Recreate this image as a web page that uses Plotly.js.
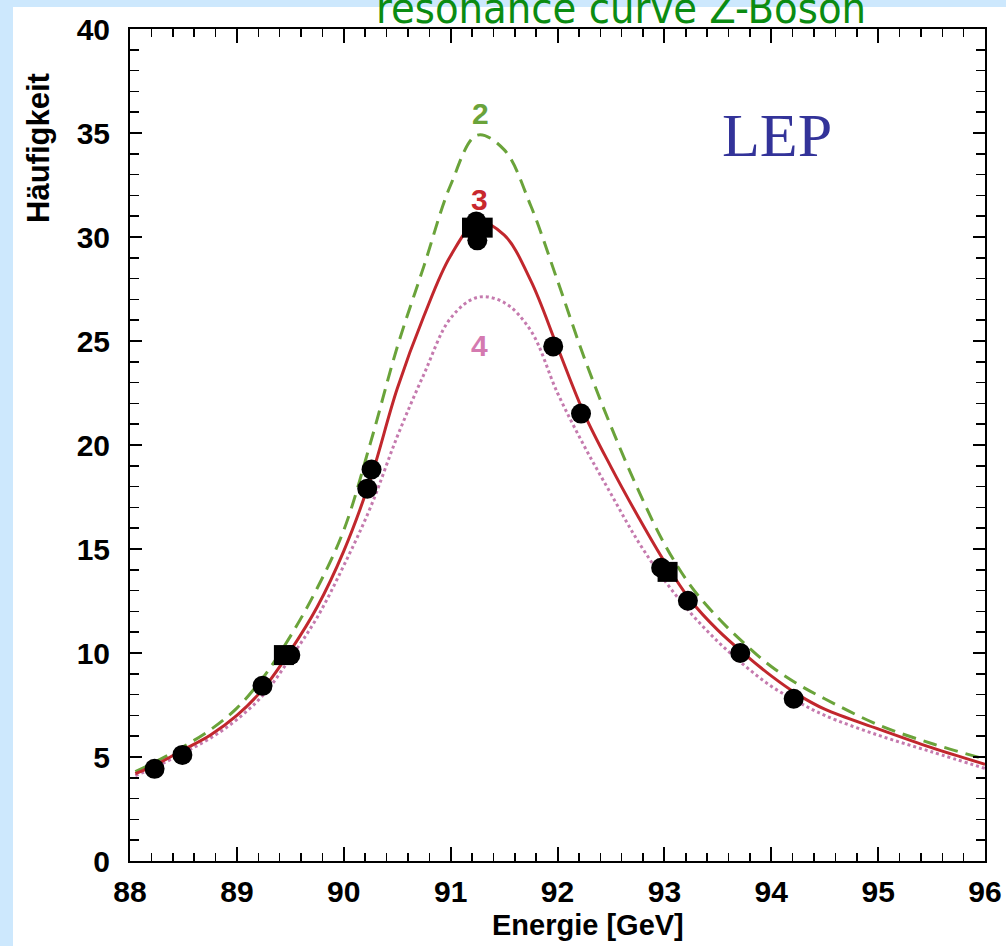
<!DOCTYPE html>
<html>
<head>
<meta charset="utf-8">
<script src="https://cdn.plot.ly/plotly-3.0.1.min.js"></script>
<style>
  html, body { margin: 0; padding: 0; background: #cde8fd; }
  #chart { width: 1006px; height: 946px; }
</style>
</head>
<body>
<div id="chart"></div>
<script>
// ---- data ----
const energy = [88.05, 88.25, 88.5, 88.75, 89.0, 89.25, 89.5, 89.75, 90.0, 90.25,
                90.5, 90.75, 91.0, 91.25, 91.5, 91.75, 92.0, 92.25, 92.5, 92.75,
                93.0, 93.25, 93.5, 93.75, 94.0, 94.25, 94.5, 95.0, 95.5, 96.0];
// curve "2" (green dashed)
const curve2 = [4.3, 4.8, 5.5, 6.3, 7.35, 8.85, 10.8, 13.1, 15.9, 20.1,
                24.7, 28.6, 32.5, 34.9, 34.2, 31.5, 27.9, 24.2, 20.9, 17.9,
                15.25, 13.2, 11.7, 10.45, 9.35, 8.5, 7.8, 6.55, 5.65, 4.9];
// curve "3" (red solid)
const curve3 = [4.2, 4.65, 5.35, 6.05, 7.0, 8.3, 10.1, 12.2, 14.9, 18.35,
                22.7, 26.2, 29.1, 30.7, 30.1, 27.9, 24.7, 21.5, 18.95, 16.6,
                14.4, 12.5, 11.1, 9.95, 8.9, 8.0, 7.3, 6.35, 5.45, 4.65];
// curve "4" (pink dotted)
const curve4 = [4.1, 4.55, 5.2, 5.9, 6.8, 8.0, 9.75, 11.7, 14.2, 17.0,
                20.4, 23.4, 26.1, 27.1, 26.85, 25.5, 22.5, 19.95, 17.65, 15.4,
                13.5, 11.9, 10.55, 9.4, 8.4, 7.65, 7.0, 6.05, 5.25, 4.45];
// measured points (circles)
const circE = [88.23, 88.49, 89.24, 89.50, 90.22, 90.26, 91.24, 91.25, 91.96, 92.22, 92.97, 93.22, 93.71, 94.21];
const circV = [4.43, 5.10, 8.42, 9.90, 17.9, 18.82, 30.75, 29.84, 24.74, 21.51, 14.1, 12.51, 10.0, 7.8];
// measured points (squares)
const sqE = [89.44, 91.20, 91.30, 93.03];
const sqV = [9.90, 30.45, 30.45, 13.9];
// tick labels
const xTicks = [88, 89, 90, 91, 92, 93, 94, 95, 96];
const yTicks = [0, 5, 10, 15, 20, 25, 30, 35, 40];
// curve labels
const curveNames = ["2", "3", "4"];
const labelE = [91.28, 91.27, 91.27];
const labelV = [35.95, 31.8, 24.8];

const cGreen = '#6aa33a', cRed = '#c1272d', cPink = '#c57aae';
const boldFam = '"Liberation Sans", Arial, sans-serif';

const traces = [
  { x: energy, y: curve2, mode: 'lines', line: { color: cGreen, width: 3, dash: '14px,8px', shape: 'spline', smoothing: 1 }, hoverinfo: 'skip' },
  { x: energy, y: curve4, mode: 'lines', line: { color: cPink, width: 3, dash: '3px,3px', shape: 'spline', smoothing: 1 }, hoverinfo: 'skip' },
  { x: energy, y: curve3, mode: 'lines', line: { color: cRed, width: 3, shape: 'spline', smoothing: 1 }, hoverinfo: 'skip' },
  { x: sqE, y: sqV, mode: 'markers', marker: { symbol: 'square', size: 20, color: '#000' } },
  { x: circE, y: circV, mode: 'markers', marker: { symbol: 'circle', size: 20, color: '#000' } }
];

const L = 130, R = 985, T = 29, B = 861;
const px2x = p => (p - L) / (R - L);
const px2y = p => (B - p) / (B - T);

const annotations = [
  { text: 'resonance curve Z-Boson', xref: 'paper', yref: 'paper', x: px2x(621), y: px2y(35),
    xanchor: 'center', yanchor: 'bottom', showarrow: false,
    font: { family: '"DejaVu Sans Condensed", "DejaVu Sans", sans-serif', size: 43, color: '#0b8c12' } },
  { text: 'LEP', xref: 'paper', yref: 'paper', x: px2x(777), y: px2y(135),
    xanchor: 'center', yanchor: 'middle', showarrow: false,
    font: { family: '"Liberation Serif", "Times New Roman", serif', size: 62, color: '#333399' } },
  { text: 'Häufigkeit', xref: 'paper', yref: 'paper', x: px2x(38), y: px2y(148),
    xanchor: 'center', yanchor: 'middle', textangle: -90, showarrow: false,
    font: { family: boldFam, size: 31, color: '#000', weight: 'bold' } },
  { text: 'Energie [GeV]', xref: 'paper', yref: 'paper', x: px2x(588), y: px2y(925),
    xanchor: 'center', yanchor: 'middle', showarrow: false,
    font: { family: boldFam, size: 29, color: '#000', weight: 'bold' } }
];
const labelColors = [cGreen, '#c8282e', '#d47ab0'];
curveNames.forEach((n, i) => annotations.push({
  text: n, x: labelE[i], y: labelV[i], xref: 'x', yref: 'y', showarrow: false,
  xanchor: 'center', yanchor: 'middle',
  font: { family: boldFam, size: 30, color: labelColors[i], weight: 'bold' }
}));

const layout = {
  width: 1006, height: 946,
  margin: { l: L, r: 1006 - R, t: T, b: 946 - B, pad: 0 },
  paper_bgcolor: '#cde8fd',
  plot_bgcolor: '#ffffff',
  showlegend: false,
  shapes: [
    { type: 'rect', xref: 'paper', yref: 'paper', x0: px2x(13), x1: px2x(1010), y0: px2y(950), y1: px2y(7),
      fillcolor: '#ffffff', line: { width: 0 }, layer: 'below' }
  ],
  xaxis: {
    range: [88, 96], tickvals: xTicks, ticktext: xTicks.map(String),
    ticks: 'inside', ticklen: 14, tickwidth: 2, tickcolor: '#000',
    showline: true, linewidth: 2, linecolor: '#000', mirror: 'ticks',
    showgrid: false, zeroline: false, ticklabelstandoff: 3,
    minor: { dtick: 0.2, tick0: 88, ticks: 'inside', ticklen: 8, tickwidth: 1.5, tickcolor: '#000', showgrid: false },
    tickfont: { family: boldFam, size: 30, color: '#000', weight: 'bold' }
  },
  yaxis: {
    range: [0, 40], tickvals: yTicks, ticktext: yTicks.map(String),
    ticks: 'inside', ticklen: 12, tickwidth: 2, tickcolor: '#000',
    showline: true, linewidth: 2, linecolor: '#000', mirror: 'ticks',
    showgrid: false, zeroline: false, ticklabelstandoff: 12,
    minor: { dtick: 1, tick0: 0, ticks: 'inside', ticklen: 9, tickwidth: 1.5, tickcolor: '#000', showgrid: false },
    tickfont: { family: boldFam, size: 30, color: '#000', weight: 'bold' }
  },
  annotations: annotations
};

Plotly.newPlot('chart', traces, layout, { displayModeBar: false, staticPlot: true });
</script>
</body>
</html>
